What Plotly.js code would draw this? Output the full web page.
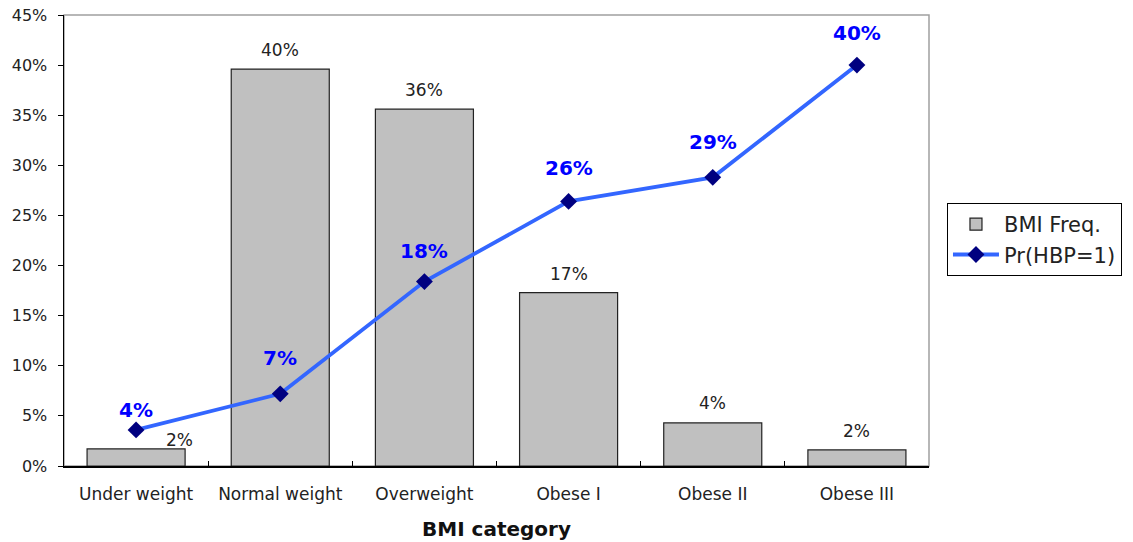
<!DOCTYPE html>
<html>
<head>
<meta charset="utf-8">
<script src="https://cdn.plot.ly/plotly-3.0.1.min.js"></script>
<style>
  html, body { margin: 0; padding: 0; background: #fff; }
  #chart { width: 1133px; height: 542px; }
</style>
</head>
<body>
<div id="chart"></div>
<script>
// BMI categories
const categories = ['Under weight', 'Normal weight', 'Overweight', 'Obese I', 'Obese II', 'Obese III'];
// Share of sample in each BMI category
const bmiFreq = [0.017, 0.396, 0.356, 0.173, 0.043, 0.016];
// Predicted probability of high blood pressure
const prHBP = [0.036, 0.072, 0.184, 0.264, 0.288, 0.400];
// Y axis ticks
const yTickVals = [0, 0.05, 0.10, 0.15, 0.20, 0.25, 0.30, 0.35, 0.40, 0.45];
const yTickText = ['0%', '5%', '10%', '15%', '20%', '25%', '30%', '35%', '40%', '45%'];

const FONT = 'DejaVu Sans, Verdana, sans-serif';
const pct = v => Math.round(v * 100) + '%';

// label placement tweaks (pixels, label centre relative to the point)
const barLabelXShift = [43, 0, 0, 0, 0, 0];
const barLabelYShift = [9, 19, 19, 19, 20, 19];
const lineLabelYShift = [20, 36, 31, 33, 35, 32];

const bars = {
  type: 'bar',
  name: 'BMI Freq.',
  x: categories,
  y: bmiFreq,
  marker: { color: '#C0C0C0', line: { color: '#222', width: 1.2 } },
  width: 0.68,
  hoverinfo: 'x+y'
};

const line = {
  type: 'scatter',
  mode: 'lines+markers',
  name: 'Pr(HBP=1)',
  x: categories,
  y: prHBP,
  line: { color: '#3366FF', width: 3.8 },
  marker: { symbol: 'diamond', color: '#000080', size: 13, line: { width: 0 } },
  hoverinfo: 'x+y'
};

const annotations = [];
bmiFreq.forEach((v, i) => {
  annotations.push({
    x: categories[i], y: v, xref: 'x', yref: 'y',
    text: pct(v), showarrow: false,
    yanchor: 'middle', xshift: barLabelXShift[i], yshift: barLabelYShift[i],
    font: { family: FONT, size: 17, color: '#222' }
  });
});
prHBP.forEach((v, i) => {
  annotations.push({
    x: categories[i], y: v, xref: 'x', yref: 'y',
    text: '<b>' + pct(v) + '</b>', showarrow: false,
    yanchor: 'middle', yshift: lineLabelYShift[i],
    font: { family: FONT, size: 20, color: '#0000FF' }
  });
});

const layout = {
  width: 1133,
  height: 542,
  margin: { l: 64, r: 203, t: 15, b: 76 },
  paper_bgcolor: '#fff',
  plot_bgcolor: '#fff',
  font: { family: FONT, size: 17, color: '#222' },
  showlegend: true,
  legend: {
    x: 1.0196, xanchor: 'left',
    y: 0.583, yanchor: 'top',
    bordercolor: '#000', borderwidth: 1,
    bgcolor: '#fff',
    font: { family: FONT, size: 21, color: '#222' },
    tracegroupgap: 0,
    itemwidth: 46
  },
  xaxis: {
    type: 'category',
    showline: true, linecolor: '#000', linewidth: 1.5,
    ticks: 'inside', tickson: 'boundaries', ticklen: 5, tickcolor: '#000',
    tickfont: { family: FONT, size: 17, color: '#222' },
    ticklabelstandoff: 12,
    showgrid: false, zeroline: false,
    title: { text: '<b>BMI category</b>', font: { family: FONT, size: 20, color: '#111' }, standoff: 19 }
  },
  yaxis: {
    range: [0, 0.45],
    tickvals: yTickVals, ticktext: yTickText,
    showline: true, linecolor: '#000', linewidth: 1.5,
    ticks: 'outside', ticklen: 5, tickcolor: '#000',
    tickfont: { family: FONT, size: 16, color: '#222' },
    ticklabelstandoff: 7,
    showgrid: false, zeroline: false
  },
  shapes: [
    { type: 'rect', xref: 'paper', yref: 'paper', x0: 0, x1: 1, y0: 0, y1: 1,
      line: { color: '#A0A0A0', width: 1.5 }, layer: 'below' }
  ],
  annotations: annotations,
  bargap: 0.32
};

Plotly.newPlot('chart', [bars, line], layout, { displayModeBar: false, staticPlot: true });
</script>
</body>
</html>
